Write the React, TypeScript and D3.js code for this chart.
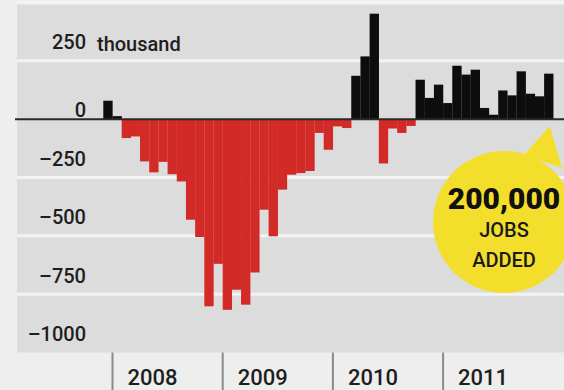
import React from "react";
import * as d3 from "d3";

// Monthly change in US payrolls, thousands (Dec 2007 – Dec 2011)
const startMonth = new Date(2007, 11, 1);
const endMonth = new Date(2012, 0, 1);
const jobs: number[] = [
  79,
  13, -81, -74, -181, -228, -183, -236, -267, -431, -505, -802, -620,
  -817, -731, -795, -657, -388, -502, -302, -238, -231, -222, -59, -131,
  -31, -38, 186, 269, 452, -190, -40, -59, -29, 169, 91, 148,
  69, 229, 191, 212, 48, 19, 123, 102, 205, 109, 98, 195,
];
const yTicks: number[] = [250, 0, -250, -500, -750, -1000];
const yTickLabels: string[] = ["250", "0", "–250", "–500", "–750", "–1000"];
const gridValues: number[] = [500, 250, -250, -500, -750];
const years: string[] = ["2008", "2009", "2010", "2011"];
const calloutLines: string[] = ["200,000", "JOBS", "ADDED"];

const W = 564;
const H = 390;
const FONT = "Roboto, 'Open Sans', sans-serif";

export default function App() {
  const fmt = d3.timeFormat("%Y-%m");
  const months = d3.timeMonth.range(startMonth, endMonth).map((d) => fmt(d));

  const x = d3.scaleBand<string>().domain(months).range([103.3, 553.3]).padding(0);
  const y = d3.scaleLinear().domain([-1000, 500]).range([352.5, 2.5]);

  const plotLeft = 17;
  const plotTop = y(500) + 2;
  const plotBottom = y(-1000);
  const y0 = y(0);

  const lastM = months[months.length - 1];
  const tipX = (x(lastM) as number) + x.bandwidth() / 2 + 1;
  const tipY = y0 + 7;
  const cx = 504;
  const cy = 222;
  const r = 71;

  return (
    <svg
      width={W}
      height={H}
      style={{ position: "absolute", left: 0, top: 0, display: "block" }}
    >
      <rect x={0} y={0} width={W} height={H} fill="#eeeeee" />
      <rect
        x={plotLeft}
        y={plotTop}
        width={W - plotLeft}
        height={plotBottom - plotTop}
        fill="#dcdcdc"
      />
      {gridValues.map((v) => (
        <line
          key={"g" + v}
          x1={plotLeft}
          x2={W}
          y1={y(v)}
          y2={y(v)}
          stroke="#f3f3f3"
          strokeWidth={3}
        />
      ))}

      {/* y labels */}
      {yTicks.map((v, i) => (
        <text
          key={"yt" + v}
          x={86}
          y={v === 0 ? y(v) - 2.5 : y(v) - 11.5}
          textAnchor="end"
          fontFamily={FONT}
          fontWeight={500}
          fontSize={20}
          fill="#1e1e1e"
        >
          {yTickLabels[i]}
        </text>
      ))}
      <text
        x={97}
        y={y(250) - 10}
        fontFamily={FONT}
        fontWeight={500}
        fontSize={20}
        fill="#1e1e1e"
      >
        thousand
      </text>

      {/* bars */}
      {jobs.map((v, i) => {
        const m = months[i];
        const bx = x(m) as number;
        const top = v >= 0 ? y(v) : y0;
        const h = Math.abs(y(v) - y0);
        return (
          <rect
            key={m}
            x={bx}
            y={top}
            width={x.bandwidth() + 0.15}
            height={h}
            fill={v >= 0 ? "#0d0d0d" : "#d22a26"}
          />
        );
      })}

      {/* zero line */}
      <line x1={15} x2={W} y1={y0} y2={y0} stroke="#2a2a2a" strokeWidth={2} />

      {/* year ticks */}
      {years.map((yr) => {
        const xx = x(yr + "-01") as number;
        return (
          <g key={yr}>
            <line
              x1={xx}
              x2={xx}
              y1={plotBottom}
              y2={H}
              stroke="#8a8a8a"
              strokeWidth={2}
            />
            <text
              x={xx + 15}
              y={385}
              fontFamily={FONT}
              fontWeight={500}
              fontSize={22}
              fill="#1e1e1e"
            >
              {yr}
            </text>
          </g>
        );
      })}

      {/* callout */}
      <g>
        <path
          d={`M${tipX},${tipY} L${cx + 58},${cy - 54} L${cx + 20},${cy - 67} Z`}
          fill="#f4de2c"
        />
        <circle cx={cx} cy={cy} r={r} fill="#f4de2c" />
        <text
          x={cx}
          y={209}
          textAnchor="middle"
          fontFamily={FONT}
          fontWeight={900}
          fontSize={30}
          fill="#111"
        >
          {calloutLines[0]}
        </text>
        <text
          x={cx}
          y={237}
          textAnchor="middle"
          fontFamily={FONT}
          fontWeight={500}
          fontSize={20}
          fill="#1a1a1a"
        >
          {calloutLines[1]}
        </text>
        <text
          x={cx}
          y={267}
          textAnchor="middle"
          fontFamily={FONT}
          fontWeight={500}
          fontSize={20}
          fill="#1a1a1a"
        >
          {calloutLines[2]}
        </text>
      </g>
    </svg>
  );
}
